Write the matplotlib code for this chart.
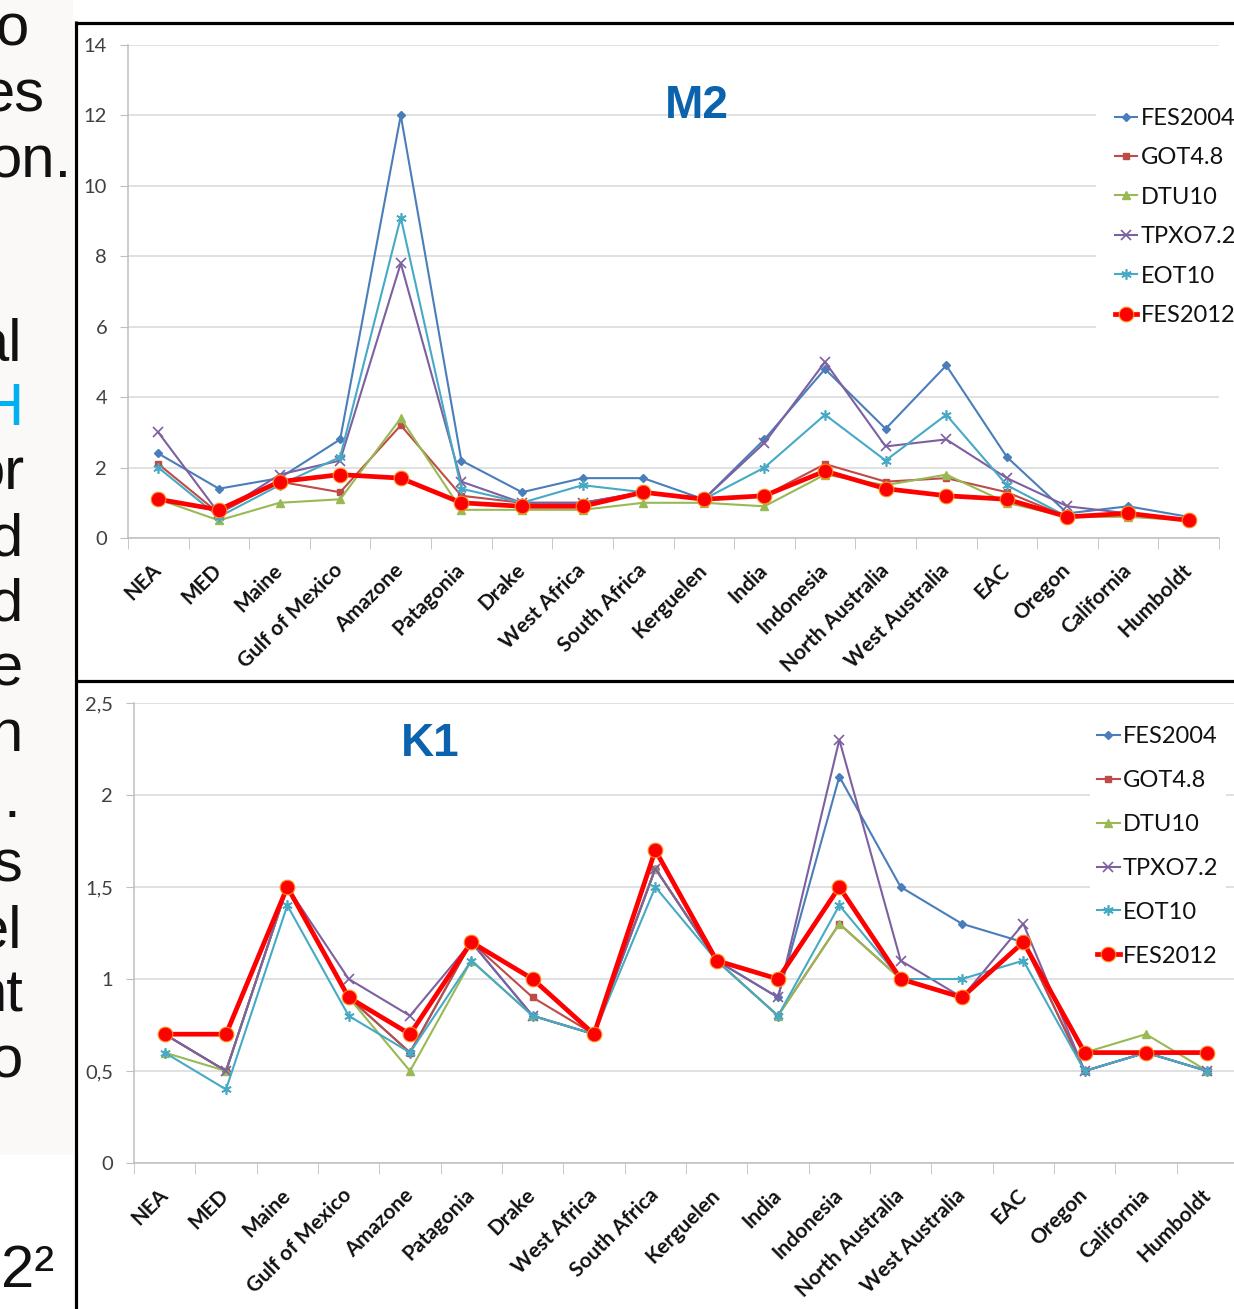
import numpy as np
import matplotlib
matplotlib.use("Agg")
import matplotlib.pyplot as plt
from matplotlib.lines import Line2D
from matplotlib.patches import Rectangle

regions = ["NEA", "MED", "Maine", "Gulf of Mexico", "Amazone", "Patagonia",
           "Drake", "West Africa", "South Africa", "Kerguelen", "India",
           "Indonesia", "North Australia", "West Australia", "EAC", "Oregon",
           "California", "Humboldt"]
models = ["FES2004", "GOT4.8", "DTU10", "TPXO7.2", "EOT10", "FES2012"]

# M2 (cm)
m2_fes2004 = [2.4, 1.4, 1.7, 2.8, 12.0, 2.2, 1.3, 1.7, 1.7, 1.1, 2.8, 4.8, 3.1, 4.9, 2.3, 0.7, 0.9, 0.6]
m2_got48   = [2.1, 0.7, 1.6, 1.3, 3.2, 1.2, 1.0, 1.0, 1.3, 1.1, 1.2, 2.1, 1.6, 1.7, 1.3, 0.6, 0.7, 0.5]
m2_dtu10   = [1.1, 0.5, 1.0, 1.1, 3.4, 0.8, 0.8, 0.8, 1.0, 1.0, 0.9, 1.8, 1.5, 1.8, 1.0, 0.6, 0.6, 0.5]
m2_tpxo72  = [3.0, 0.7, 1.8, 2.2, 7.8, 1.6, 1.0, 1.0, 1.3, 1.1, 2.7, 5.0, 2.6, 2.8, 1.7, 0.9, 0.7, 0.5]
m2_eot10   = [2.0, 0.6, 1.5, 2.3, 9.1, 1.4, 1.0, 1.5, 1.3, 1.1, 2.0, 3.5, 2.2, 3.5, 1.5, 0.6, 0.7, 0.5]
m2_fes2012 = [1.1, 0.8, 1.6, 1.8, 1.7, 1.0, 0.9, 0.9, 1.3, 1.1, 1.2, 1.9, 1.4, 1.2, 1.1, 0.6, 0.7, 0.5]

# K1 (cm)
k1_fes2004 = [0.7, 0.5, 1.5, 0.9, 0.6, 1.2, 0.8, 0.7, 1.6, 1.1, 0.9, 2.1, 1.5, 1.3, 1.2, 0.5, 0.6, 0.5]
k1_got48   = [0.7, 0.5, 1.5, 0.9, 0.6, 1.2, 0.9, 0.7, 1.6, 1.1, 0.8, 1.3, 1.0, 0.9, 1.2, 0.5, 0.6, 0.5]
k1_dtu10   = [0.6, 0.5, 1.5, 0.9, 0.5, 1.1, 0.8, 0.7, 1.6, 1.1, 0.8, 1.3, 1.0, 0.9, 1.2, 0.6, 0.7, 0.5]
k1_tpxo72  = [0.7, 0.5, 1.5, 1.0, 0.8, 1.2, 0.8, 0.7, 1.6, 1.1, 0.9, 2.3, 1.1, 0.9, 1.3, 0.5, 0.6, 0.5]
k1_eot10   = [0.6, 0.4, 1.4, 0.8, 0.6, 1.1, 0.8, 0.7, 1.5, 1.1, 0.8, 1.4, 1.0, 1.0, 1.1, 0.5, 0.6, 0.5]
k1_fes2012 = [0.7, 0.7, 1.5, 0.9, 0.7, 1.2, 1.0, 0.7, 1.7, 1.1, 1.0, 1.5, 1.0, 0.9, 1.2, 0.6, 0.6, 0.6]

m2_ticks = [0, 2, 4, 6, 8, 10, 12, 14]
k1_ticks = [0, 0.5, 1, 1.5, 2, 2.5]
k1_tick_labels = ["0", "0,5", "1", "1,5", "2", "2,5"]

# bits of the slide text that stick out on the left
side_text = ["o", "es", "on.", "al", "H", "or", "d", "d", "e", "n", ".", "s", "el", "nt", "o"]

colors = {"FES2004": "#4a7ebb", "GOT4.8": "#be4b48", "DTU10": "#98b954",
          "TPXO7.2": "#7d60a0", "EOT10": "#46aac5", "FES2012": "#ff0000"}
styles = {
    "FES2004": dict(marker="D", ms=4.5, lw=1.5),
    "GOT4.8": dict(marker="s", ms=5, lw=1.5),
    "DTU10": dict(marker="^", ms=6, lw=1.5),
    "TPXO7.2": dict(marker="x", ms=6.5, mew=1.2, lw=1.5),
    "EOT10": dict(marker=(6, 2, 0), ms=7.5, mew=1.2, lw=1.5),
    "FES2012": dict(marker="o", ms=10.5, lw=3.4, mec="#ff8a1a", mew=0.8, zorder=5),
}

W, H = 1234, 1309
fig = plt.figure(figsize=(W / 100, H / 100), dpi=100)
fig.patch.set_facecolor("white")

def fx(x):
    return x / W

def fy(y):
    return 1 - y / H

CHART_FONT = "Lato"
TXT = "#404040"

# slide background strip and text on the left
fig.add_artist(Rectangle((0, fy(1155)), fx(73), 1155 / H, transform=fig.transFigure,
                         facecolor="#faf9f7", edgecolor="none", zorder=0))
base = [46, 112, 177, 360, 425, 490, 556, 621, 686, 751, 817, 882, 947, 1012, 1077]
right = [29, 44, 72, 22, 23, 25, 23, 23, 23, 22, 20, 22, 22, 23, 23]
for s, yb, xr in zip(side_text, base, right):
    fig.text(fx(xr), fy(yb), s, ha="right", va="baseline", fontsize=43,
             family="Liberation Sans", color="#00b0f0" if s == "H" else "#111111")
fig.text(fx(54), fy(1287), "2\u00b2", ha="right", va="baseline", fontsize=43,
         family="Liberation Sans", color="#111111")

# black frame of the two chart boxes
for xs, ys in [([75.5, 75.5], [21, H]), ([75, W], [22.5, 22.5]), ([75, W], [680.5, 680.5])]:
    fig.add_artist(Line2D([fx(v) for v in xs], [fy(v) for v in ys], transform=fig.transFigure,
                          color="black", lw=2.3, solid_capstyle="butt"))

panels = [
    dict(box=(128, 45, 1219, 538), data=[m2_fes2004, m2_got48, m2_dtu10, m2_tpxo72, m2_eot10, m2_fes2012],
         ytop=14, ticks=m2_ticks, labels=[str(t) for t in m2_ticks], title="M2", title_xy=(697, 118),
         leg_xy=(1096, 89), leg_pad=0.8, leg_space=0.78),
    dict(box=(134, 703, 1238, 1163), data=[k1_fes2004, k1_got48, k1_dtu10, k1_tpxo72, k1_eot10, k1_fes2012],
         ytop=2.5, ticks=k1_ticks, labels=k1_tick_labels, title="K1", title_xy=(430, 756),
         leg_xy=(1090, 719), leg_pad=0.3, leg_space=0.97),
]

x = np.arange(len(regions))
for p in panels:
    x0, y0, x1, y1 = p["box"]
    ax = fig.add_axes([fx(x0), fy(y1), (x1 - x0) / W, (y1 - y0) / H])
    ax.set_facecolor("none")
    for name, vals in zip(models, p["data"]):
        st = dict(styles[name])
        ax.plot(x, vals, color=colors[name], label=name, clip_on=False, **st)

    ax.set_xlim(-0.5, len(regions) - 0.5)
    ax.set_ylim(0, p["ytop"])
    ax.set_yticks(p["ticks"])
    ax.set_yticklabels(p["labels"], fontsize=14.5, family=CHART_FONT, color=TXT)
    ax.yaxis.grid(True, color="#d9d9d9", lw=1.1)
    ax.set_axisbelow(True)
    ax.tick_params(axis="y", length=6, color="#bfbfbf", pad=9)

    ax.set_xticks(x)
    ax.set_xticklabels(regions, rotation=45, ha="right", va="center", rotation_mode="anchor",
                       fontsize=15, fontweight="bold", family=CHART_FONT, color="#111111")
    ax.set_xticks(np.arange(-0.5, len(regions)), minor=True)
    ax.tick_params(axis="x", which="major", length=0, pad=21)
    ax.tick_params(axis="x", which="minor", length=8, color="#bfbfbf")

    for side in ["top", "right"]:
        ax.spines[side].set_visible(False)
    for side in ["left", "bottom"]:
        ax.spines[side].set_color("#bfbfbf")
        ax.spines[side].set_linewidth(1.1)

    tx, ty = p["title_xy"]
    fig.text(fx(tx), fy(ty), p["title"], ha="center", va="baseline", fontsize=33,
             fontweight="bold", family="Liberation Sans", color="#0b63ae")

    lx, ly = p["leg_xy"]
    leg = ax.legend(loc="upper left", bbox_to_anchor=(fx(lx), fy(ly)), bbox_transform=fig.transFigure,
                    borderaxespad=0, borderpad=p["leg_pad"], labelspacing=p["leg_space"],
                    handlelength=0.95, handletextpad=0.15, frameon=True, fancybox=False,
                    prop={"family": CHART_FONT, "size": 17})
    leg.get_frame().set_facecolor("white")
    leg.get_frame().set_edgecolor("none")
    leg.get_frame().set_alpha(1)
    for t in leg.get_texts():
        t.set_color("#111111")

fig.savefig("out.png", dpi=100)
